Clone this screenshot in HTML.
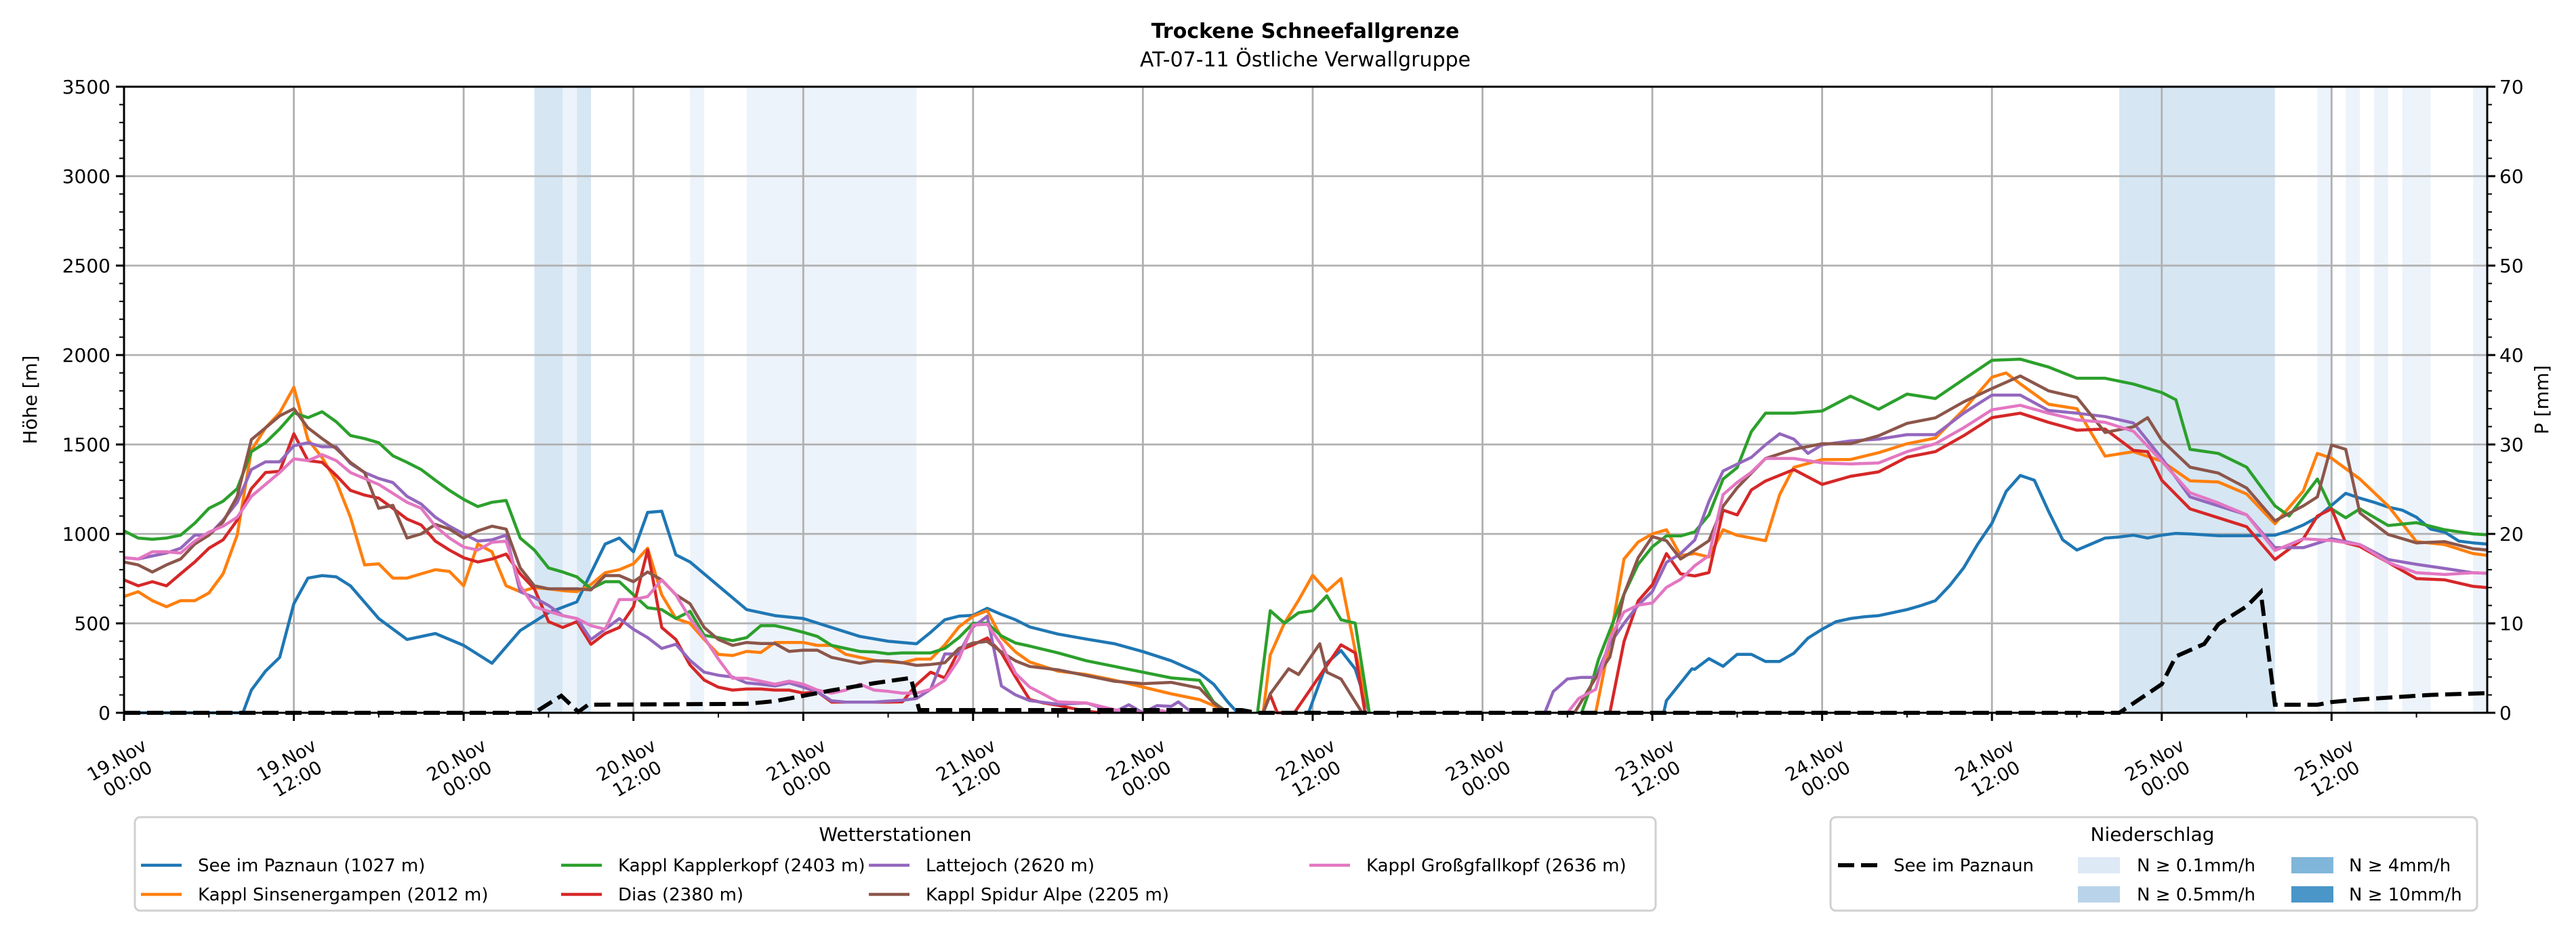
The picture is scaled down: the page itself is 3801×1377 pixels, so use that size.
<!DOCTYPE html>
<html><head><meta charset="utf-8">
<style>
html,body{margin:0;padding:0;background:#fff;}
svg{display:block;font-family:"DejaVu Sans","Liberation Sans",sans-serif;}
</style></head>
<body>
<svg id="chart" width="3801" height="1377" viewBox="0 0 3801 1377" xmlns="http://www.w3.org/2000/svg">
<rect x="0" y="0" width="3801" height="1377" fill="#fff"/>
<text x="1926" y="56" text-anchor="middle" font-size="30" font-weight="bold">Trockene Schneefallgrenze</text>
<text x="1926" y="98" text-anchor="middle" font-size="30">AT-07-11 Östliche Verwallgruppe</text>
<g id="bands"></g>
<g id="grid"></g>
<g id="series"></g>
<g id="axes"></g>
<text transform="translate(46,590) rotate(-90)" text-anchor="middle" dominant-baseline="middle" font-size="28">Höhe [m]</text>
<text transform="translate(3752,590) rotate(-90)" text-anchor="middle" dominant-baseline="middle" font-size="28">P [mm]</text>

<g>
<rect x="199" y="1206" width="2244" height="138" rx="8" fill="#fff" stroke="#d0d0d0" stroke-width="3"/>
<text x="1321" y="1241" text-anchor="middle" font-size="28">Wetterstationen</text>
<g font-size="26">
<g><line x1="208" y1="1277" x2="268" y2="1277" stroke="#1f77b4" stroke-width="4.5"/><text x="292" y="1286">See im Paznaun (1027 m)</text></g>
<g><line x1="208" y1="1320" x2="268" y2="1320" stroke="#ff7f0e" stroke-width="4.5"/><text x="292" y="1329">Kappl Sinsenergampen (2012 m)</text></g>
<g><line x1="828" y1="1277" x2="888" y2="1277" stroke="#2ca02c" stroke-width="4.5"/><text x="912" y="1286">Kappl Kapplerkopf (2403 m)</text></g>
<g><line x1="828" y1="1320" x2="888" y2="1320" stroke="#d62728" stroke-width="4.5"/><text x="912" y="1329">Dias (2380 m)</text></g>
<g><line x1="1282" y1="1277" x2="1342" y2="1277" stroke="#9467bd" stroke-width="4.5"/><text x="1366" y="1286">Lattejoch (2620 m)</text></g>
<g><line x1="1282" y1="1320" x2="1342" y2="1320" stroke="#8c564b" stroke-width="4.5"/><text x="1366" y="1329">Kappl Spidur Alpe (2205 m)</text></g>
<g><line x1="1932" y1="1277" x2="1992" y2="1277" stroke="#e377c2" stroke-width="4.5"/><text x="2016" y="1286">Kappl Großgfallkopf (2636 m)</text></g>
</g>
</g>

<g>
<rect x="2701" y="1206" width="954" height="138" rx="8" fill="#fff" stroke="#d0d0d0" stroke-width="3"/>
<text x="3176" y="1241" text-anchor="middle" font-size="28">Niederschlag</text>
<g font-size="26">
<g><line x1="2712" y1="1277" x2="2770" y2="1277" stroke="#000" stroke-width="6" stroke-dasharray="24,10"/><text x="2794" y="1286">See im Paznaun</text></g>
<g><rect x="3066" y="1265" width="62" height="24" fill="#dde9f5"/><text x="3153" y="1286">N ≥ 0.1mm/h</text></g>
<g><rect x="3066" y="1308" width="62" height="24" fill="#b9d4ea"/><text x="3153" y="1329">N ≥ 0.5mm/h</text></g>
<g><rect x="3381" y="1265" width="62" height="24" fill="#80b6da"/><text x="3466" y="1286">N ≥ 4mm/h</text></g>
<g><rect x="3381" y="1308" width="62" height="24" fill="#4a96c8"/><text x="3466" y="1329">N ≥ 10mm/h</text></g>
</g>
</g>
</svg>
<script>
// ---- data ----
const xMaxHours = 167;
const yTicks = [0,500,1000,1500,2000,2500,3000,3500];
const y2Ticks = [0,10,20,30,40,50,60,70];
const tickDays = ["19","20","21","22","23","24","25"];
const tickTimes = ["00:00","12:00"];

const bandStart = [29,31,32,40,44,141,155,157,159,161,166];
const bandEnd   = [31,32,33,41,56,152,156,158,160,163,167];
const bandLevel = [2,1,2,1,1,2,1,1,1,1,1];

const precipT = [0,29,30.9,32.1,32.8,44,46,48,50,53,55.6,56.2,79,80,141,144,145,147,148,150,151,152,155,156,158,160,163,167];
const precipV = [0,0,1.9,0.1,0.9,1.0,1.3,1.9,2.5,3.3,3.9,0.3,0.3,0,0,3.2,6.3,7.7,9.9,11.9,13.5,0.9,0.9,1.2,1.5,1.7,2.0,2.2];

const seeT = [0,8.4,9,10,11,12,13,14,15,16,18,20,22,24,26,28,30,32,34,35,36,37,38,39,40,42,44,46,48,50,52,54,56,57,58,59,60,61,62,63,64,66,68,70,72,74,76,77,78,78.7,80,83.7,85,86,87,88,95,108.8,109,110.8,111,112,113,114,115,116,117,118,119,120,121,122,123,124,125,126,127,128,129,130,131,132,133,134,135,136,137,138,139,140,141,142,143,144,145,146,148,150,152,153,154,155,156,157,158,159,160,161,162,163,164,165,166,167];
const seeV = [0,0,127,233,310,610,753,767,760,710,527,410,443,377,277,460,560,620,943,977,900,1120,1127,883,843,710,577,543,527,477,427,400,386,450,520,540,545,584,550,520,480,440,412,386,342,291,221,160,60,0,null,0,278,348,246,0,null,0,68,246,243,303,260,327,327,287,287,333,417,467,510,527,537,543,560,577,600,627,710,810,943,1060,1237,1327,1300,1127,967,910,943,977,983,993,977,993,1003,1000,990,990,993,1017,1050,1093,1160,1227,1200,1177,1150,1133,1093,1027,1010,960,950,943];

const sinsT = [0,1,2,3,4,5,6,7,8,9,10,11,12,13,14,15,16,17,18,19,20,21,22,23,24,25,26,27,28,29,30,31,32,33,34,35,36,37,38,39,40,41,42,43,44,45,46,47,48,49,50,51,52,53,54,55,56,57,58,59,60,61,62,63,64,66,68,70,72,74,76,77,78,79,80.5,81,82,83,84,85,86,87,88,95,104,105,106,107,108,109,110,111,112,113,114,116,117,118,120,122,124,126,128,130,132,133,134,136,138,140,142,144,146,148,150,152,154,155,156,158,160,162,164,166,167];
const sinsV = [650,677,627,593,627,627,670,777,993,1467,1593,1677,1820,1527,1427,1293,1093,827,833,753,753,777,800,790,710,943,900,710,677,700,693,683,677,717,783,800,833,920,660,527,500,410,327,320,343,337,393,393,393,377,377,327,310,293,285,280,300,300,380,480,540,571,420,340,284,233,214,182,144,106,74,40,0,null,0,323,501,629,769,680,750,348,0,null,0,398,860,955,1000,1023,879,890,871,1023,992,962,1220,1372,1416,1416,1454,1504,1536,1694,1876,1900,1839,1725,1700,1435,1460,1407,1297,1290,1223,1057,1240,1450,1423,1307,1157,957,940,890,880];

const kappT = [0,1,2,3,4,5,6,7,8,9,10,11,12,13,14,15,16,17,18,19,20,21,22,23,24,25,26,27,28,29,30,31,32,33,34,35,36,37,38,39,40,41,42,43,44,45,46,47,48,49,50,51,52,53,54,55,56,57,58,59,60,61,62,63,64,66,68,70,72,74,76,77,78,79,80.1,81,82,83,84,85,86,87,88,95,103,103.6,104.2,106,107,108,109,110,111,112,113,114,115,116,118,120,122,124,126,128,130,132,134,136,138,140,142,144,145,146,148,150,152,153,155,156,157,158,160,162,164,166,167];
const kappV = [1017,977,970,977,993,1060,1143,1183,1253,1460,1510,1587,1677,1650,1683,1627,1550,1533,1510,1437,1400,1360,1300,1243,1193,1153,1177,1187,977,910,810,787,760,693,733,733,660,587,577,527,567,433,420,403,420,487,487,470,450,427,377,360,343,340,330,335,335,335,360,420,500,501,430,390,373,335,291,259,227,195,182,60,0,null,0,571,501,559,571,654,520,501,0,null,0,133,299,663,830,928,989,989,1011,1106,1307,1371,1572,1675,1675,1687,1770,1697,1782,1757,1864,1971,1977,1933,1870,1870,1838,1790,1750,1473,1450,1373,1157,1100,1307,1140,1090,1140,1047,1063,1023,1000,995];

const diasT = [0,1,2,3,4,5,6,7,8,9,10,11,12,13,14,15,16,17,18,19,20,21,22,23,24,25,26,27,28,29,30,31,32,33,34,35,36,37,38,39,40,41,42,43,44,45,46,47,48,49,50,51,52,53,54,55,56,57,58,59,60,61,62,63,64,65,66,67,68,69,75,80.5,81,81.5,82.7,86,87,87.7,95,105,106,107,108,109,110,111,112,113,114,115,116,118,120,122,124,126,128,130,132,134,136,138,140,142,143,144,146,148,150,152,154,155,156,157,158,160,162,164,166,167];
const diasV = [743,710,733,710,777,843,920,967,1077,1253,1343,1350,1560,1410,1400,1327,1243,1217,1200,1143,1083,1050,960,910,867,843,860,887,777,693,510,477,510,383,443,477,593,910,477,410,267,183,143,127,133,133,127,127,110,117,60,60,60,60,60,61,157,227,195,348,380,418,335,200,74,55,42,25,10,0,null,0,100,0,0,380,335,0,null,0,398,625,716,890,777,765,784,1133,1106,1246,1296,1360,1277,1322,1347,1429,1460,1549,1650,1675,1624,1580,1586,1467,1460,1300,1140,1090,1040,857,973,1100,1140,950,930,840,750,743,707,700];

const latteT = [0,1,2,3,4,5,6,7,8,9,10,11,12,13,14,15,16,17,18,19,20,21,22,23,24,25,26,27,28,29,30,31,32,33,34,35,36,37,38,39,40,41,42,43,44,45,46,47,48,49,50,51,52,53,54,55,56,57,58,59,60,61,62,63,64,66,68,70,71,72,73,74,74.5,75.5,80,100.4,101,102,103,104,105,106,107,108,109,110,111,112,113,114,115,116,117,118,119,120,122,124,126,128,130,132,134,136,138,140,142,144,146,148,150,152,154,156,158,160,162,164,166,167];
const latteV = [867,860,877,893,920,993,993,1077,1177,1360,1403,1403,1493,1510,1487,1487,1393,1343,1310,1287,1210,1167,1093,1043,1000,960,967,993,677,643,600,543,527,410,467,527,467,420,360,383,293,227,210,200,167,160,150,167,143,117,67,60,60,60,65,70,80,131,329,329,480,540,150,100,68,48,55,4,45,0,40,36,61,0,null,0,119,189,198,198,386,500,602,678,841,890,966,1182,1352,1390,1428,1498,1560,1530,1450,1498,1520,1530,1555,1555,1675,1776,1776,1690,1675,1656,1620,1423,1207,1157,1107,923,923,973,940,857,830,807,783,780];

const spidurT = [0,1,2,3,4,5,6,7,8,9,10,11,12,13,14,15,16,17,18,19,20,21,22,23,24,25,26,27,28,29,30,31,32,33,34,35,36,37,38,39,40,41,42,43,44,45,46,47,48,49,50,51,52,53,54,55,56,57,58,59,60,61,62,63,64,66,68,70,72,74,76,77,78,79,80.5,81,82.3,83,84.5,85,86,87.5,95,102.5,104,105,106,107,108,109,110,111,112,113,114,116,118,120,122,124,126,128,130,132,134,136,138,140,142,143,144,146,148,150,152,154,155,156,157,158,160,162,164,166,167];
const spidurV = [843,827,787,827,860,943,993,1067,1210,1527,1593,1660,1700,1593,1533,1477,1400,1343,1143,1160,977,1000,1053,1027,977,1017,1043,1027,810,710,693,693,693,687,767,767,733,787,743,660,610,477,410,377,393,387,387,343,350,350,310,293,277,290,290,280,265,270,280,360,390,399,340,290,259,240,208,176,163,170,138,55,0,null,0,106,246,214,386,227,189,0,null,0,195,311,663,867,985,962,860,909,962,1155,1258,1422,1473,1504,1504,1549,1618,1649,1738,1813,1883,1800,1763,1567,1599,1650,1523,1373,1340,1257,1073,1157,1207,1497,1473,1117,997,950,957,917,910];

const grossT = [0,1,2,3,4,5,6,7,8,9,10,11,12,13,14,15,16,17,18,19,20,21,22,23,24,25,26,27,28,29,30,31,32,33,34,35,36,37,38,39,40,41,42,43,44,45,46,47,48,49,50,51,52,53,54,55,56,57,58,59,60,61,62,63,64,66,68,70,72,73,74,80,102,102.8,104,105,106,107,108,109,110,111,112,113,114,115,116,118,120,122,124,126,128,130,132,134,136,138,140,142,144,146,148,150,152,154,156,158,160,162,164,166,167];
const grossV = [867,860,900,900,893,960,1010,1043,1093,1210,1277,1343,1420,1410,1443,1410,1343,1310,1277,1227,1177,1143,1043,977,927,910,953,960,710,593,567,543,527,487,467,633,633,650,743,660,527,420,300,193,193,177,160,177,160,127,110,127,160,127,120,110,110,131,182,300,490,495,380,220,144,61,55,17,0,17,0,null,0,80,131,413,564,602,614,701,746,822,879,1220,1288,1345,1422,1422,1397,1391,1397,1460,1504,1593,1694,1719,1675,1637,1624,1574,1407,1230,1173,1107,907,973,963,940,840,783,773,783,780];

// ---- axes ----
const NS = "http://www.w3.org/2000/svg";
const PL = 183, PR = 3670, PT = 128, PB = 1052;
function xs(t){ return PL + t/xMaxHours*(PR-PL); }
function ys(v){ return PB - v/3500*(PB-PT); }
function yp(mm){ return PB - mm/70*(PB-PT); }
function mk(parent, tag, attrs){
  const e = document.createElementNS(NS, tag);
  for (const k in attrs) e.setAttribute(k, attrs[k]);
  parent.appendChild(e);
  return e;
}
const gB = document.getElementById('bands'), gG = document.getElementById('grid'),
      gS = document.getElementById('series'), gA = document.getElementById('axes');

// bands
const bandColors = {1:'#edf3fa', 2:'#d6e6f3'};
for (let i=0;i<bandStart.length;i++){
  const r = mk(gB,'rect',{x:xs(bandStart[i]), y:PT, width:xs(bandEnd[i])-xs(bandStart[i]), height:PB-PT, fill:bandColors[bandLevel[i]]});
  
  
}
// grid
for (const v of yTicks){
  const l = mk(gG,'line',{x1:PL,x2:PR,y1:ys(v),y2:ys(v),stroke:'#b0b0b0','stroke-width':2.8});
  
  
}
for (let t=0;t<=xMaxHours;t+=12){
  const l = mk(gG,'line',{x1:xs(t),x2:xs(t),y1:PT,y2:PB,stroke:'#b0b0b0','stroke-width':2.8});
  
  
}
// series
function pathFrom(T,V,yf){
  let d='', pen=false;
  for (let i=0;i<T.length;i++){
    if (V[i]===null){ pen=false; continue; }
    d += (pen?'L':'M') + xs(T[i]).toFixed(1) + ',' + yf(V[i]).toFixed(1);
    pen=true;
  }
  return d;
}
const seriesList = [
  ['line-see-im-paznaun', seeT, seeV, '#1f77b4'],
  ['line-kappl-sinsenergampen', sinsT, sinsV, '#ff7f0e'],
  ['line-kappl-kapplerkopf', kappT, kappV, '#2ca02c'],
  ['line-dias', diasT, diasV, '#d62728'],
  ['line-lattejoch', latteT, latteV, '#9467bd'],
  ['line-kappl-spidur-alpe', spidurT, spidurV, '#8c564b'],
  ['line-kappl-grossgfallkopf', grossT, grossV, '#e377c2']
];
for (const s of seriesList){
  const p = mk(gS,'path',{d:pathFrom(s[1],s[2],ys), fill:'none', stroke:s[3], 'stroke-width':4.5, 'stroke-linejoin':'round'});
  
  
}
const pp = mk(gS,'path',{d:pathFrom(precipT,precipV,yp), fill:'none', stroke:'#000', 'stroke-width':6, 'stroke-dasharray':'24,10'});



// frame
const fr = mk(gA,'rect',{x:PL,y:PT,width:PR-PL,height:PB-PT,fill:'none',stroke:'#000','stroke-width':3});


// left y ticks
for (let v=0; v<=3500; v+=100){
  const major = v%500===0;
  mk(gA,'line',{x1:PL,x2:PL-(major?12:7),y1:ys(v),y2:ys(v),stroke:'#000','stroke-width':major?3:2});
}
for (const v of yTicks){
  const t = mk(gA,'text',{x:PL-20,y:ys(v)+10,'text-anchor':'end','font-size':28});
  t.textContent = v;
  
  
}
// right y ticks
for (let m=0; m<=70; m+=2){
  const major = m%10===0;
  mk(gA,'line',{x1:PR,x2:PR+(major?12:7),y1:yp(m),y2:yp(m),stroke:'#000','stroke-width':major?3:2});
}
for (const m of y2Ticks){
  const t = mk(gA,'text',{x:PR+18,y:yp(m)+10,'text-anchor':'start','font-size':28});
  t.textContent = m;
  
  
}
// x ticks
for (let t=0; t<=xMaxHours; t+=6){
  const major = t%12===0;
  mk(gA,'line',{x1:xs(t),x2:xs(t),y1:PB,y2:PB+(major?12:7),stroke:'#000','stroke-width':major?3:2});
}
for (let i=0;i<tickDays.length*2;i++){
  const t = i*12;
  if (t > xMaxHours) break;
  const cx = xs(t)-3, cy = 1135;
  const g = mk(gA,'g',{transform:`translate(${cx},${cy}) rotate(-30)`});
  
  
  const tx = mk(g,'text',{'text-anchor':'middle','font-size':27});
  const s1 = mk(tx,'tspan',{x:0,y:-6}); s1.textContent = tickDays[Math.floor(i/2)] + '.Nov';
  const s2 = mk(tx,'tspan',{x:0,y:26}); s2.textContent = tickTimes[i%2];
}
</script>
</body></html>
